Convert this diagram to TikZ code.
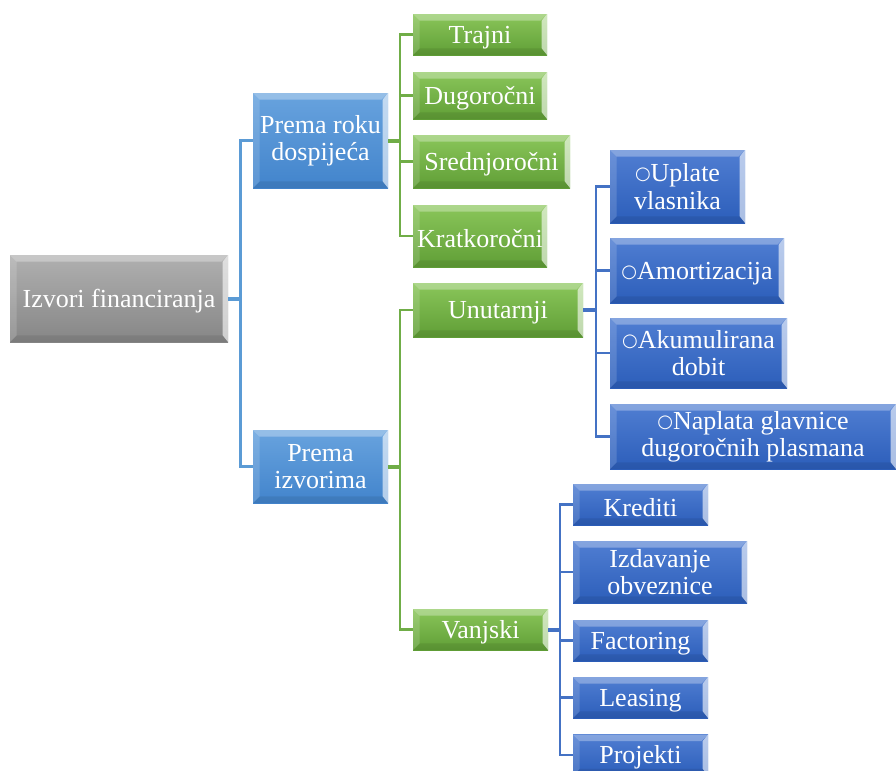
\documentclass[tikz,border=0pt]{standalone}
\usepackage{fontspec}
\setmainfont{Liberation Serif}
\newfontfamily\symfont{DejaVu Sans}
\usepackage{tikz}
\usetikzlibrary{shapes,calc}

\definecolor{grntop}{RGB}{138,198,90}
\definecolor{grnbot}{RGB}{96,158,54}
\definecolor{lbltop}{RGB}{104,163,222}
\definecolor{lblbot}{RGB}{66,132,204}
\definecolor{dbltop}{RGB}{80,126,210}
\definecolor{dblbot}{RGB}{44,94,186}
\definecolor{grytop}{RGB}{176,176,176}
\definecolor{grybot}{RGB}{134,134,134}
\definecolor{lnlbl}{RGB}{91,155,213}
\definecolor{lngrn}{RGB}{112,173,71}
\definecolor{lndbl}{RGB}{68,114,196}

\newcommand{\bul}{\raisebox{1.5pt}{\symfont\fontsize{13.5}{13.5}\selectfont ○}}

\tikzset{
  box/.style={rectangle, inner sep=0pt, text=white, align=center,
    font=\fontsize{19.5}{20.5}\selectfont,
    execute at begin node={\rule{0pt}{17.5pt}},
    path picture={
      \fill[white,opacity=.3] (path picture bounding box.north west) -- (path picture bounding box.north east)
        -- ([shift={(-5pt,-5pt)}]path picture bounding box.north east) -- ([shift={(5pt,-5pt)}]path picture bounding box.north west) -- cycle;
      \fill[white,opacity=.15] (path picture bounding box.north west) -- ([shift={(5pt,-5pt)}]path picture bounding box.north west)
        -- ([shift={(5pt,5pt)}]path picture bounding box.south west) -- (path picture bounding box.south west) -- cycle;
      \fill[white,opacity=.6] (path picture bounding box.north east) -- ([shift={(-4pt,-5pt)}]path picture bounding box.north east)
        -- ([shift={(-4pt,5pt)}]path picture bounding box.south east) -- (path picture bounding box.south east) -- cycle;
      \fill[black,opacity=.08] (path picture bounding box.south west) -- ([shift={(5pt,5pt)}]path picture bounding box.south west)
        -- ([shift={(-4pt,5pt)}]path picture bounding box.south east) -- (path picture bounding box.south east) -- cycle;
    }},
  grnbox/.style={box, top color=grntop, bottom color=grnbot},
  lblbox/.style={box, top color=lbltop, bottom color=lblbot},
  dblbox/.style={box, top color=dbltop, bottom color=dblbot},
  grybox/.style={box, top color=grytop, bottom color=grybot},
  sz/.style n args={2}{minimum width=#1*0.75pt, minimum height=#2*0.75pt},
  conn/.style={line width=2pt},
  stem/.style={line width=3pt}
}

\begin{document}
\begin{tikzpicture}[x=0.75pt,y=-0.75pt]
\useasboundingbox (0,0) rectangle (896,771);

% root and first level
\node[grybox,sz={218}{87}] (root) at (119,298.5) {Izvori financiranja};
\node[lblbox,sz={135}{95}] (roku) at (320.5,140.5) {Prema roku\\dospijeća};
\node[lblbox,sz={135}{73}] (izv) at (320.5,466.5) {Prema\\izvorima};

% prema roku dospijeca
\node[grnbox,sz={134}{41}] (trajni) at (480,34.5) {Trajni};
\node[grnbox,sz={134}{47}] (dugo) at (480,95.5) {Dugoročni};
\node[grnbox,sz={157}{53}] (sred) at (491.5,161.5) {Srednjoročni};
\node[grnbox,sz={134}{62}] (krat) at (480,236) {Kratkoročni};

% prema izvorima
\node[grnbox,sz={170}{54}] (unut) at (498,310) {Unutarnji};
\node[grnbox,sz={135}{41}] (vanj) at (480.5,629.5) {Vanjski};

% unutarnji
\node[dblbox,sz={135}{73}] (uplate) at (677.5,186.5) {\bul Uplate\\vlasnika};
\node[dblbox,sz={174}{65}] (amort) at (697,270.5) {\bul Amortizacija};
\node[dblbox,sz={177}{70}] (akum) at (698.5,353) {\bul Akumulirana\\dobit};
\node[dblbox,sz={286}{65}] (napl) at (753,436.5) {\bul Naplata glavnice\\dugoročnih plasmana};

% vanjski
\node[dblbox,sz={135}{41}] (kred) at (640.5,504.5) {Krediti};
\node[dblbox,sz={174}{62}] (izd) at (660,572) {Izdavanje\\obveznice};
\node[dblbox,sz={135}{41}] (fact) at (640.5,640.5) {Factoring};
\node[dblbox,sz={135}{41}] (leas) at (640.5,697.5) {Leasing};
\node[dblbox,sz={135}{41}] (proj) at (640.5,755) {Projekti};

% connectors
\coordinate (t1) at (240.5,298.5);
\draw[stem,lnlbl] (root.east) -- (t1);
\draw[conn,lnlbl] (roku.west) -| (t1);
\draw[conn,lnlbl] (izv.west) -| (t1);

\coordinate (t2) at (400,140.5);
\draw[stem,lngrn] (roku.east) -- (t2);
\foreach \n in {trajni,dugo,sred,krat}
  \draw[conn,lngrn] (\n.west) -| (t2);

\coordinate (t3) at (400,466.5);
\draw[stem,lngrn] (izv.east) -- (t3);
\draw[conn,lngrn] (unut.west) -| (t3);
\draw[conn,lngrn] (vanj.west) -| (t3);

\coordinate (t4) at (596,310);
\draw[stem,lndbl] (unut.east) -- (t4);
\foreach \n in {uplate,amort,akum,napl}
  \draw[conn,lndbl] (\n.west) -| (t4);

\coordinate (t5) at (560,629.5);
\draw[stem,lndbl] (vanj.east) -- (t5);
\foreach \n in {kred,izd,fact,leas,proj}
  \draw[conn,lndbl] (\n.west) -| (t5);
\end{tikzpicture}
\end{document}
